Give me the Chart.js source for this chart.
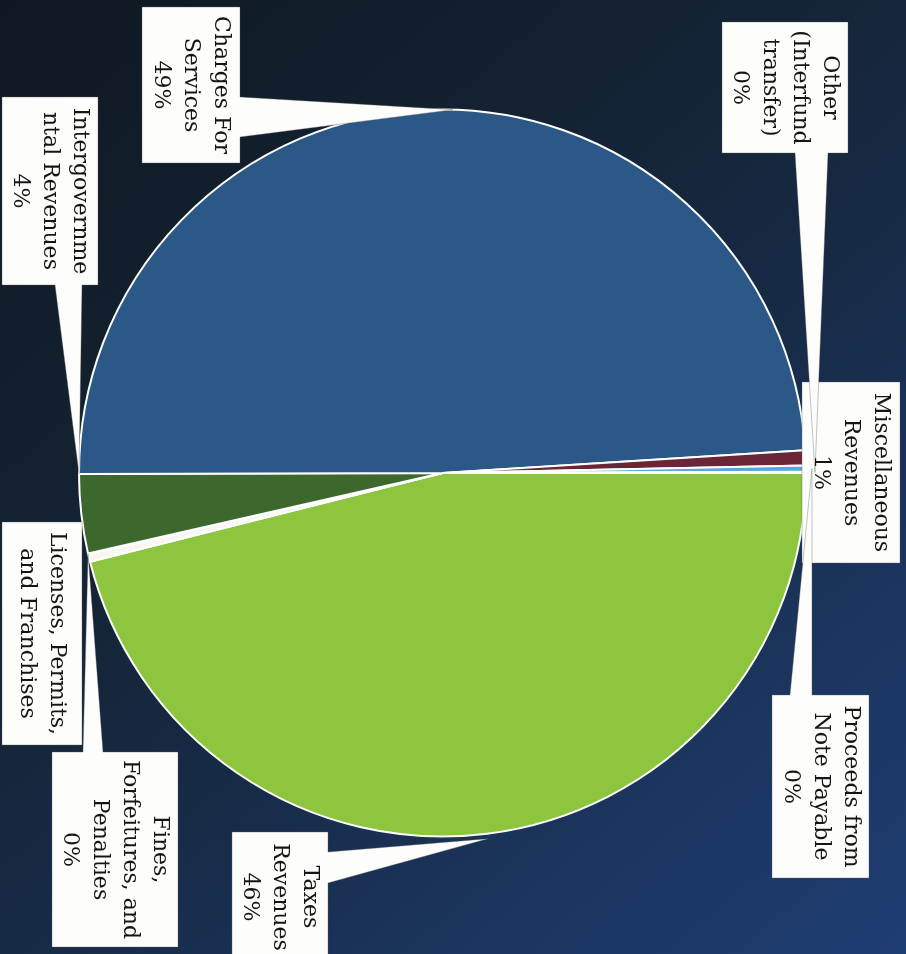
<!DOCTYPE html>
<html>
<head>
<meta charset="utf-8">
<script src="https://cdn.jsdelivr.net/npm/chart.js@4.4.1/dist/chart.umd.min.js"></script>
<style>
  html, body { margin: 0; padding: 0; }
  body {
    width: 906px; height: 954px; overflow: hidden;
    background: linear-gradient(140deg, #0f1822 0%, #132130 30%, #172a44 55%, #1b355e 78%, #1e3d72 100%);
  }
  #wrap { position: absolute; left: 0; top: 0; width: 906px; height: 954px; }
</style>
</head>
<body>
<div id="wrap"><canvas id="c" width="906" height="954"></canvas></div>
<script>
// ---- data ----
const categories = [
  "Taxes Revenues",
  "Licenses, Permits, and Franchises",
  "Fines, Forfeitures, and Penalties",
  "Intergovernmental Revenues",
  "Charges For Services",
  "Miscellaneous Revenues",
  "Proceeds from Note Payable",
  "Other (Interfund transfer)"
];
const shares = [46.0, 0.35, 0.03, 3.5, 48.97, 0.67, 0.28, 0.05];
const percentLabels = ["46%", "", "0%", "4%", "49%", "1%", "0%", "0%"];
const labelLines = [
  ["Taxes", "Revenues"],
  ["Licenses, Permits,", "and Franchises"],
  ["Fines,", "Forfeitures, and", "Penalties"],
  ["Intergovernme", "ntal Revenues"],
  ["Charges For", "Services"],
  ["Miscellaneous", "Revenues"],
  ["Proceeds from", "Note Payable"],
  ["Other", "(Interfund", "transfer)"]
];

// ---- styling / layout ----
const sliceColors = ["#8ec53f", "#f6f7f3", "#f6f7f3", "#3d682d", "#2b5886", "#6a2536", "#5aa5dc", "#2b5886"];
const callouts = [
  { box: [232, 832, 96, 130], side: "right",  base: [852, 883], f: 0.5, off: 5 },
  { box: [2, 522, 80, 223],   side: null },
  { box: [52, 752, 126, 195], side: "top",    base: [83, 103], f: 0.5, off: 0 },
  { box: [2, 97, 96, 188],    side: "bottom", base: [55, 82], f: 1.0, off: 0 },
  { box: [142, 7, 98, 156],   side: "right",  base: [97, 137], f: 0.52, off: 0 },
  { box: [802, 382, 98, 181], side: null },
  { box: [772, 695, 97, 183], side: "top",    base: [790, 812], f: 0.5, off: 6 },
  { box: [722, 22, 126, 131], side: "bottom", base: [795, 828], f: 0.5, off: 9 }
];
const drawOrder = [5, 1, 0, 2, 3, 4, 6, 7];

function calloutPath(ctx, c, tip) {
  const [x, y, w, h] = c.box;
  const pts = [];
  pts.push([x, y]);
  if (c.side === "top") { pts.push([c.base[0], y], tip, [c.base[1], y]); }
  pts.push([x + w, y]);
  if (c.side === "right") { pts.push([x + w, c.base[0]], tip, [x + w, c.base[1]]); }
  pts.push([x + w, y + h]);
  if (c.side === "bottom") { pts.push([c.base[1], y + h], tip, [c.base[0], y + h]); }
  pts.push([x, y + h]);
  if (c.side === "left") { pts.push([x, c.base[1]], tip, [x, c.base[0]]); }
  ctx.beginPath();
  pts.forEach((p, i) => i ? ctx.lineTo(p[0], p[1]) : ctx.moveTo(p[0], p[1]));
  ctx.closePath();
}

const calloutPlugin = {
  id: "callouts",
  afterDatasetsDraw(chart) {
    const ctx = chart.ctx;
    const arcs = chart.getDatasetMeta(0).data;
    ctx.save();
    drawOrder.forEach(i => {
      const c = callouts[i];
      let tip = null;
      if (c.side) {
        const a = arcs[i];
        const ang = a.startAngle + c.f * (a.endAngle - a.startAngle);
        const r = a.outerRadius + c.off;
        tip = [a.x + r * Math.cos(ang), a.y + r * Math.sin(ang)];
      }
      calloutPath(ctx, c, tip);
      ctx.fillStyle = "#fdfdfb";
      ctx.fill();
      ctx.lineWidth = 0.8;
      ctx.strokeStyle = "rgba(90,90,90,0.45)";
      ctx.stroke();
    });
    ctx.fillStyle = "#151515";
    ctx.font = "22px 'DejaVu Serif'";
    ctx.textAlign = "center";
    ctx.textBaseline = "middle";
    const lh = 30;
    labelLines.forEach((lines, i) => {
      const all = percentLabels[i] ? lines.concat([percentLabels[i]]) : lines.slice();
      const [x, y, w, h] = callouts[i].box;
      const cx = x + w / 2, cy = y + h / 2;
      ctx.save();
      ctx.translate(cx, cy);
      ctx.rotate(Math.PI / 2);
      const n = all.length;
      all.forEach((t, k) => {
        ctx.fillText(t, 0, (k - (n - 1) / 2) * lh);
      });
      ctx.restore();
    });
    ctx.restore();
  }
};

new Chart(document.getElementById("c"), {
  type: "pie",
  data: {
    labels: categories,
    datasets: [{
      data: shares,
      backgroundColor: sliceColors,
      borderColor: "#ffffff",
      borderWidth: 2
    }]
  },
  options: {
    responsive: false,
    animation: false,
    devicePixelRatio: 1,
    rotation: 90,
    layout: { padding: { left: 78, right: 99, top: 108, bottom: 116 } },
    plugins: { legend: { display: false }, tooltip: { enabled: false } }
  },
  plugins: [calloutPlugin]
});
</script>
</body>
</html>
